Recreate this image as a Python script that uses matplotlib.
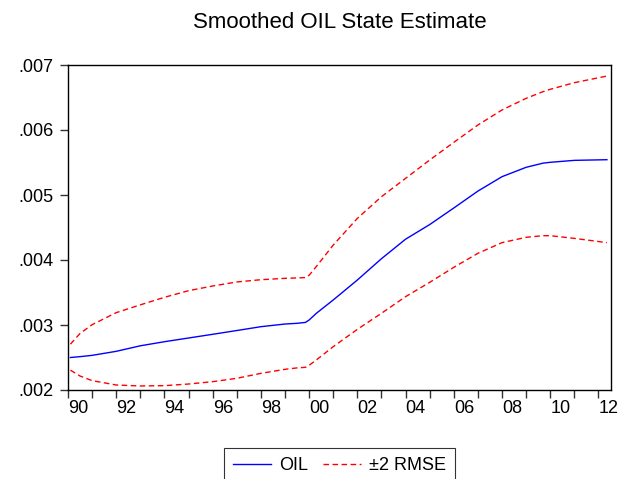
import matplotlib
matplotlib.use("Agg")
import matplotlib.pyplot as plt
from matplotlib.ticker import FixedLocator, FuncFormatter

plt.rcParams['font.family'] = ['Liberation Sans', 'DejaVu Sans']

years = [1990.1, 1990.5, 1991, 1992, 1993, 1994, 1995, 1996, 1997, 1998, 1999,
         1999.5, 1999.85, 2000, 2000.3, 2001, 2002, 2003, 2004, 2005, 2006,
         2007, 2008, 2009, 2009.7, 2010, 2011, 2012.35]
oil = [0.002500, 0.002513, 0.002533, 0.002595, 0.002680, 0.002743, 0.002800,
       0.002857, 0.002915, 0.002974, 0.003015, 0.003026, 0.003040, 0.003077,
       0.003180, 0.003385, 0.003692, 0.004020, 0.004320, 0.004545, 0.004800,
       0.005060, 0.005282, 0.005426, 0.005490, 0.005503, 0.005533, 0.005543]
upper = [0.002705, 0.002870, 0.003005, 0.003190, 0.003310, 0.003426, 0.003528,
         0.003600, 0.003662, 0.003697, 0.003718, 0.003724, 0.003730, 0.003765,
         0.003900, 0.004230, 0.004640, 0.004974, 0.005256, 0.005538, 0.005810,
         0.006077, 0.006308, 0.006487, 0.006590, 0.006626, 0.006728, 0.006830]
lower = [0.002305, 0.002215, 0.002144, 0.002077, 0.002062, 0.002067, 0.002092,
         0.002128, 0.002180, 0.002256, 0.002318, 0.002340, 0.002349, 0.002380,
         0.002462, 0.002667, 0.002933, 0.003180, 0.003436, 0.003656, 0.003887,
         0.004103, 0.004267, 0.004349, 0.004374, 0.004374, 0.004333, 0.004267]

xtick_years = list(range(1990, 2013))
xlabel_years = list(range(1990, 2013, 2))
yticks = [0.002, 0.003, 0.004, 0.005, 0.006, 0.007]

fig = plt.figure(figsize=(6.35, 4.79), dpi=100)
ax = fig.add_axes([68/635, 1-390/479, (611-68)/635, (390-65)/479])

ax.plot(years, oil, color='#0000ff', lw=1.0, label='OIL')
ax.plot(years, upper, color='#ff0000', lw=1.0, dashes=(4, 2.5), label='±2 RMSE')
ax.plot(years, lower, color='#ff0000', lw=1.0, dashes=(4, 2.5))

ax.set_xlim(1990, 2012.52)
ax.set_ylim(0.002, 0.007)

ax.xaxis.set_major_locator(FixedLocator(xlabel_years))
ax.xaxis.set_minor_locator(FixedLocator([y for y in xtick_years if y not in xlabel_years]))
ax.xaxis.set_major_formatter(FuncFormatter(lambda v, p: f"{int(round(v)) % 100:02d}"))
ax.set_yticks(yticks)
ax.yaxis.set_major_formatter(FuncFormatter(lambda v, p: f"{v:.3f}".lstrip('0')))

ax.tick_params(axis='both', which='both', direction='out', length=6, width=1,
               color='#333333', labelsize=13)
ax.tick_params(axis='x', which='both', pad=1.5)
ax.tick_params(axis='y', pad=4.5)
for lbl in ax.get_xticklabels():
    lbl.set_horizontalalignment('left')
for s in ax.spines.values():
    s.set_linewidth(1.0)
    s.set_color('black')

ax.text(0.5, 1 + (65-22)/325, 'Smoothed OIL State Estimate', transform=ax.transAxes,
        ha='center', va='center', fontsize=16)

leg = ax.legend(loc='upper center', bbox_to_anchor=(0.5, (390-448)/325), ncol=2,
                frameon=True, fancybox=False, edgecolor='black', fontsize=13,
                handlelength=2.1, columnspacing=0.8, handletextpad=0.45,
                borderpad=0.5, borderaxespad=0)
leg.get_frame().set_linewidth(0.8)

fig.savefig('out.png', dpi=100)
